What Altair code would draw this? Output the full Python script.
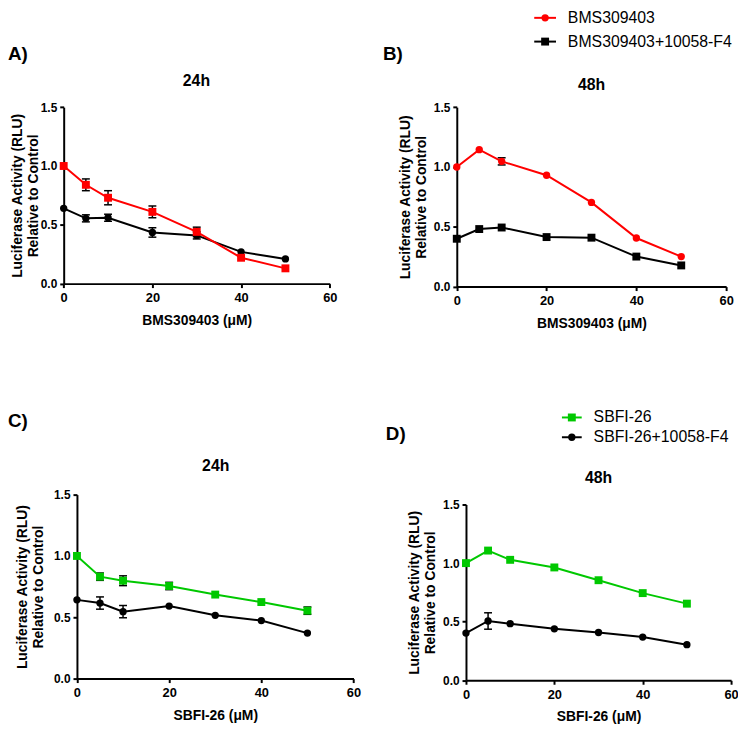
import altair as alt
import pandas as pd

FONT = "Liberation Sans"

# ---------------- data ----------------
doses = [0, 5, 10, 20, 30, 40, 50]

# A) BMS309403, 24h
a_drug = [1.00, 0.84, 0.73, 0.61, 0.44, 0.22, 0.13]
a_drug_err = [0.0, 0.05, 0.06, 0.05, 0.04, 0.0, 0.0]
a_combo = [0.64, 0.555, 0.56, 0.435, 0.41, 0.27, 0.21]
a_combo_err = [0.0, 0.03, 0.03, 0.04, 0.03, 0.0, 0.0]

# B) BMS309403, 48h
b_drug = [1.00, 1.145, 1.047, 0.931, 0.704, 0.406, 0.251]
b_drug_err = [0.0, 0.0, 0.03, 0.0, 0.0, 0.0, 0.0]
b_combo = [0.40, 0.481, 0.494, 0.414, 0.409, 0.251, 0.177]
b_combo_err = [0.0, 0.0, 0.0, 0.0, 0.0, 0.0, 0.0]

# C) SBFI-26, 24h
c_drug = [1.00, 0.831, 0.798, 0.755, 0.685, 0.624, 0.554]
c_drug_err = [0.0, 0.03, 0.04, 0.03, 0.0, 0.0, 0.03]
c_combo = [0.642, 0.616, 0.546, 0.591, 0.516, 0.473, 0.371]
c_combo_err = [0.0, 0.05, 0.05, 0.0, 0.0, 0.0, 0.0]

# D) SBFI-26, 48h
d_drug = [1.00, 1.107, 1.028, 0.963, 0.854, 0.744, 0.654]
d_drug_err = [0.0, 0.0, 0.0, 0.0, 0.0, 0.0, 0.0]
d_combo = [0.403, 0.506, 0.483, 0.439, 0.408, 0.369, 0.304]
d_combo_err = [0.0, 0.07, 0.0, 0.0, 0.0, 0.0, 0.0]

bms_names = ["BMS309403", "BMS309403+10058-F4"]
sbfi_names = ["SBFI-26", "SBFI-26+10058-F4"]
panel_labels = ["A)", "B)", "C)", "D)"]
panel_titles = ["24h", "48h", "24h", "48h"]
x_titles = ["BMS309403 (\u03bcM)", "SBFI-26 (\u03bcM)"]
y_title = ["Luciferase Activity (RLU)", "Relative to Control"]
x_ticks = [0, 20, 40, 60]
y_ticks = [0, 0.5, 1.0, 1.5]

RED = "#ff0000"
GREEN = "#00c800"
BLACK = "#000000"

W, H = 738, 722


def series_layers(name, vals, errs, color, shape, size, xr, yr, xaxis, yaxis):
    df = pd.DataFrame({"series": name, "dose": doses, "value": vals, "err": errs})
    df["lo"] = df["value"] - df["err"]
    df["hi"] = df["value"] + df["err"]
    eb = df[df["err"] > 0]
    xs = alt.Scale(domain=[0, 60], range=xr, nice=False, zero=False)
    ys = alt.Scale(domain=[0, 1.5], range=yr, nice=False, zero=False)
    layers = []
    if len(eb):
        base = alt.Chart(eb)
        layers.append(base.mark_rule(color=BLACK, strokeWidth=1.5).encode(
            x=alt.X("dose:Q", scale=xs, axis=None),
            y=alt.Y("lo:Q", scale=ys, axis=None), y2="hi:Q"))
        for col in ["lo", "hi"]:
            layers.append(base.mark_rule(color=BLACK, strokeWidth=1.5, xOffset=-4, x2Offset=4).encode(
                x=alt.X("dose:Q", scale=xs, axis=None), x2="dose:Q",
                y=alt.Y(f"{col}:Q", scale=ys, axis=None)))
    base = alt.Chart(df)
    layers.append(base.mark_line(color=color, strokeWidth=2).encode(
        x=alt.X("dose:Q", scale=xs, axis=xaxis),
        y=alt.Y("value:Q", scale=ys, axis=yaxis)))
    layers.append(base.mark_point(filled=True, shape=shape, size=size, color=color, opacity=1).encode(
        x=alt.X("dose:Q", scale=xs, axis=None),
        y=alt.Y("value:Q", scale=ys, axis=None)))
    return layers


def text_layer(label, x, y, size, weight="bold", align="center"):
    return alt.Chart(pd.DataFrame({"t": [label]})).mark_text(
        align=align, baseline="middle", font=FONT, fontSize=size,
        fontWeight=weight, color="black").encode(
        x=alt.value(x), y=alt.value(y), text="t:N")


def legend_entry(label, color, shape, size, x0, x1, y, tx):
    d = pd.DataFrame({"t": [label]})
    rule = alt.Chart(d).mark_rule(color=color, strokeWidth=2).encode(
        x=alt.value(x0), x2=alt.value(x1), y=alt.value(y))
    pt = alt.Chart(d).mark_point(filled=True, shape=shape, size=size, color=color, opacity=1).encode(
        x=alt.value((x0 + x1) / 2), y=alt.value(y))
    txt = alt.Chart(d).mark_text(align="left", baseline="middle", font=FONT, fontSize=16,
                                 color="black").encode(x=alt.value(tx), y=alt.value(y), text="t:N")
    return [rule, pt, txt]


def panel(drug, drug_err, combo, combo_err, drug_color, drug_shape, drug_size,
          combo_shape, combo_size, xr, yr, xtitle, ytitle_pad=5):
    xaxis = alt.Axis(title=xtitle, orient="bottom", offset=yr[0] - H, values=x_ticks)
    yaxis = alt.Axis(title=y_title, orient="left", offset=-xr[0], values=y_ticks, format=".1f",
                     titlePadding=ytitle_pad)
    layers = []
    layers += series_layers("combo", combo, combo_err, BLACK, combo_shape, combo_size,
                            xr, yr, xaxis, yaxis)
    layers += series_layers("drug", drug, drug_err, drug_color, drug_shape, drug_size,
                            xr, yr, None, None)
    return layers


SQ, CI = 64, 55

layers = []
# A
layers += panel(a_drug, a_drug_err, a_combo, a_combo_err, RED, "square", SQ, "circle", CI,
                [56.3, 325.3], [274.7, 96.3], x_titles[0], ytitle_pad=0)
# B
layers += panel(b_drug, b_drug_err, b_combo, b_combo_err, RED, "circle", CI, "square", SQ,
                [453.7, 726], [277.7, 96.3], x_titles[0])
# C
layers += panel(c_drug, c_drug_err, c_combo, c_combo_err, GREEN, "square", SQ, "circle", CI,
                [69.7, 349.3], [674, 488], x_titles[1], ytitle_pad=8)
# D
layers += panel(d_drug, d_drug_err, d_combo, d_combo_err, GREEN, "square", SQ, "circle", CI,
                [463, 731], [675.7, 498], x_titles[1])

# panel titles
layers.append(text_layer(panel_titles[0], 190.5, 69.5, 16))
layers.append(text_layer(panel_titles[1], 590, 73.5, 16))
layers.append(text_layer(panel_titles[2], 210, 459.5, 16))
layers.append(text_layer(panel_titles[3], 597, 471, 16))

# panel letters
layers.append(text_layer(panel_labels[0], 0, 43, 19, align="left"))
layers.append(text_layer(panel_labels[1], 379, 43, 19, align="left"))
layers.append(text_layer(panel_labels[2], 0, 413.5, 19, align="left"))
layers.append(text_layer(panel_labels[3], 382, 426.5, 19, align="left"))

# legends
layers += legend_entry(bms_names[0], RED, "circle", CI, 532, 554, 6, 566)
layers += legend_entry(bms_names[1], BLACK, "square", SQ, 532, 554, 30, 566)
layers += legend_entry(sbfi_names[0], GREEN, "square", SQ, 560, 580, 410, 592)
layers += legend_entry(sbfi_names[1], BLACK, "circle", CI, 560, 580, 430, 592)

chart = alt.layer(*layers).resolve_scale(
    x="independent", y="independent"
).resolve_axis(
    x="independent", y="independent"
).properties(
    width=W, height=H, padding=0,
    autosize=alt.AutoSizeParams(type="none"),
    background="white",
).configure_view(stroke=None).configure_axis(
    grid=False,
    domainColor="black", domainWidth=2,
    tickColor="black", tickWidth=2, tickSize=4,
    labelFont=FONT, labelFontSize=13, labelFontWeight="bold", labelColor="black",
    labelPadding=3, labelFlush=False,
    titleFont=FONT, titleFontSize=14, titleFontWeight="bold", titleColor="black",
    titleLineHeight=16,
).configure_axisX(labelPadding=4, titlePadding=9).configure_axisY(labelFontSize=12)

chart.save("out.html", embed_options={"renderer": "svg", "actions": False})
